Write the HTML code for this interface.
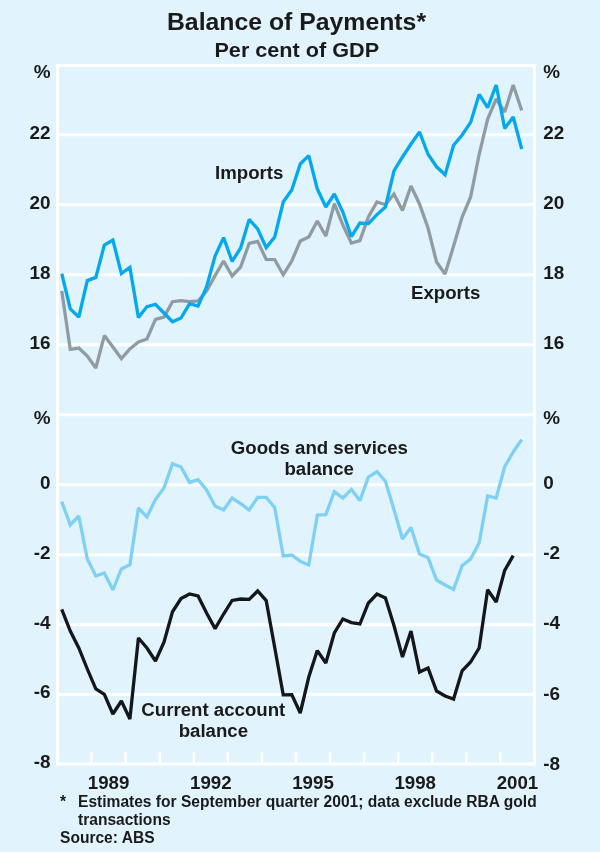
<!DOCTYPE html>
<html><head><meta charset="utf-8"><title>Balance of Payments</title>
<style>
html,body{margin:0;padding:0;background:#e1f3fd;}
body{width:600px;height:852px;overflow:hidden;position:relative;font-family:"Liberation Sans",Arial,sans-serif;font-weight:bold;color:#1a1a1a;}
svg{position:absolute;left:0;top:0;display:block;}
svg text{font-family:"Liberation Sans",Arial,sans-serif;font-weight:bold;fill:#1a1a1a;}
.t1{position:absolute;left:0;width:593px;top:7.5px;text-align:center;font-size:24.8px;line-height:28px;white-space:nowrap;}
.t2{position:absolute;left:0;width:593.5px;top:38px;text-align:center;transform:scaleX(1.055);transform-origin:50% 50%;font-size:20.5px;line-height:24px;white-space:nowrap;}
.fn{position:absolute;left:60px;font-size:15.57px;line-height:18px;white-space:nowrap;}
</style></head><body>
<svg width="600" height="852" viewBox="0 0 600 852">
<rect x="0" y="0" width="600" height="852" fill="#e1f3fd"/>
<g stroke="#ffffff" stroke-width="3" fill="none"><line x1="57.5" x2="534.5" y1="134.7" y2="134.7"/><line x1="57.5" x2="534.5" y1="204.7" y2="204.7"/><line x1="57.5" x2="534.5" y1="274.8" y2="274.8"/><line x1="57.5" x2="534.5" y1="344.8" y2="344.8"/><line x1="57.5" x2="534.5" y1="414.7" y2="414.7"/><line x1="57.5" x2="534.5" y1="484.7" y2="484.7"/><line x1="57.5" x2="534.5" y1="554.7" y2="554.7"/><line x1="57.5" x2="534.5" y1="624.7" y2="624.7"/><line x1="57.5" x2="534.5" y1="694.6" y2="694.6"/></g>
<g stroke="#ffffff" stroke-width="2.6" fill="none"><line x1="91.57" x2="91.57" y1="752" y2="764"/><line x1="125.64" x2="125.64" y1="752" y2="764"/><line x1="159.71" x2="159.71" y1="752" y2="764"/><line x1="193.78" x2="193.78" y1="752" y2="764"/><line x1="227.85" x2="227.85" y1="752" y2="764"/><line x1="261.92" x2="261.92" y1="752" y2="764"/><line x1="295.99" x2="295.99" y1="752" y2="764"/><line x1="330.06" x2="330.06" y1="752" y2="764"/><line x1="364.13" x2="364.13" y1="752" y2="764"/><line x1="398.20" x2="398.20" y1="752" y2="764"/><line x1="432.27" x2="432.27" y1="752" y2="764"/><line x1="466.34" x2="466.34" y1="752" y2="764"/><line x1="500.41" x2="500.41" y1="752" y2="764"/></g>
<g fill="none" stroke-linejoin="miter" stroke-miterlimit="2" stroke-linecap="butt">
<polyline stroke="#919ca2" stroke-width="3.3" points="61.76,291.00 70.28,349.40 78.80,348.00 87.31,356.00 95.83,368.00 104.35,335.60 112.87,347.00 121.39,358.60 129.90,349.00 138.42,342.00 146.94,339.00 155.46,319.40 163.98,317.00 172.49,301.70 181.01,300.60 189.53,301.60 198.05,301.00 206.57,291.00 215.08,275.60 223.60,261.00 232.12,276.00 240.64,267.00 249.16,243.40 257.67,241.40 266.19,259.40 274.71,259.60 283.23,274.80 291.75,261.00 300.26,241.00 308.78,237.00 317.30,221.00 325.82,236.00 334.34,203.60 342.85,225.00 351.37,243.00 359.89,240.60 368.41,217.00 376.93,202.00 385.44,204.70 393.96,194.00 402.48,210.40 411.00,186.00 419.52,204.00 428.03,228.00 436.55,262.00 445.07,274.00 453.59,246.00 462.11,217.00 470.62,197.00 479.14,154.50 487.66,119.00 496.18,99.00 504.70,112.00 513.21,85.00 521.73,110.60"/>
<polyline stroke="#04a8ee" stroke-width="3.3" points="61.76,273.60 70.28,309.00 78.80,317.00 87.31,280.60 95.83,277.40 104.35,245.00 112.87,240.00 121.39,273.60 129.90,267.40 138.42,317.60 146.94,306.60 155.46,304.40 163.98,313.00 172.49,321.70 181.01,318.00 189.53,303.60 198.05,306.00 206.57,287.00 215.08,256.00 223.60,237.60 232.12,261.40 240.64,248.00 249.16,219.40 257.67,229.00 266.19,247.60 274.71,237.00 283.23,202.00 291.75,190.00 300.26,164.00 308.78,155.60 317.30,189.00 325.82,207.00 334.34,194.00 342.85,212.00 351.37,236.60 359.89,223.00 368.41,223.60 376.93,214.60 385.44,207.00 393.96,171.00 402.48,157.00 411.00,144.00 419.52,132.00 428.03,154.30 436.55,166.80 445.07,174.80 453.59,145.20 462.11,135.00 470.62,122.40 479.14,94.40 487.66,107.60 496.18,85.00 504.70,128.40 513.21,117.00 521.73,149.00"/>
<polyline stroke="#7fd0f5" stroke-width="3.3" points="61.76,501.60 70.28,525.00 78.80,516.00 87.31,559.00 95.83,576.00 104.35,573.00 112.87,590.00 121.39,569.00 129.90,564.60 138.42,508.00 146.94,517.00 155.46,499.40 163.98,488.00 172.49,463.70 181.01,467.00 189.53,482.40 198.05,479.60 206.57,490.00 215.08,506.00 223.60,510.00 232.12,498.00 240.64,503.60 249.16,510.00 257.67,497.40 266.19,497.40 274.71,507.50 283.23,556.00 291.75,555.00 300.26,561.40 308.78,565.00 317.30,515.00 325.82,514.60 334.34,491.60 342.85,498.00 351.37,489.40 359.89,500.60 368.41,477.00 376.93,471.60 385.44,481.20 393.96,509.50 402.48,539.00 411.00,527.40 419.52,554.00 428.03,557.60 436.55,580.00 445.07,585.00 453.59,589.50 462.11,565.70 470.62,559.00 479.14,543.00 487.66,495.80 496.18,498.00 504.70,466.70 513.21,452.00 521.73,439.60"/>
<polyline stroke="#14161b" stroke-width="3.3" points="61.76,609.40 70.28,631.00 78.80,648.00 87.31,669.00 95.83,689.00 104.35,694.40 112.87,714.00 121.39,701.00 129.90,719.00 138.42,638.00 146.94,648.00 155.46,661.00 163.98,642.20 172.49,611.80 181.01,598.60 189.53,594.00 198.05,596.00 206.57,613.00 215.08,628.60 223.60,614.00 232.12,600.40 240.64,599.00 249.16,599.40 257.67,591.00 266.19,600.60 274.71,647.50 283.23,694.80 291.75,694.60 300.26,713.00 308.78,677.00 317.30,650.60 325.82,663.00 334.34,633.00 342.85,619.00 351.37,622.60 359.89,624.00 368.41,603.00 376.93,594.00 385.44,598.00 393.96,625.50 402.48,657.00 411.00,631.00 419.52,672.00 428.03,668.00 436.55,691.00 445.07,696.00 453.59,699.00 462.11,670.80 470.62,662.00 479.14,648.00 487.66,589.80 496.18,602.00 504.70,570.30 513.21,555.60"/>
</g>
<rect x="57.5" y="65.5" width="477" height="698.5" fill="none" stroke="#ffffff" stroke-width="3"/>
<g font-size="18.9"><text x="50.6" y="78.0" text-anchor="end">%</text><text x="50.6" y="139.4" text-anchor="end">22</text><text x="50.6" y="209.3" text-anchor="end">20</text><text x="50.6" y="279.2" text-anchor="end">18</text><text x="50.6" y="349.0" text-anchor="end">16</text><text x="50.6" y="488.8" text-anchor="end">0</text><text x="50.6" y="558.7" text-anchor="end">-2</text><text x="50.6" y="628.6" text-anchor="end">-4</text><text x="50.6" y="698.4" text-anchor="end">-6</text><text x="50.6" y="768.3" text-anchor="end">-8</text><text x="50.6" y="424.0" text-anchor="end">%</text><text x="543.3" y="78.0">%</text><text x="543.3" y="139.4">22</text><text x="543.3" y="209.3">20</text><text x="543.3" y="279.2">18</text><text x="543.3" y="349.0">16</text><text x="543.3" y="488.8">0</text><text x="543.3" y="558.7">-2</text><text x="543.3" y="628.6">-4</text><text x="543.3" y="699.8">-6</text><text x="543.3" y="769.5">-8</text><text x="543.3" y="424.0">%</text></g><g font-size="18.7"><text x="108.61" y="788.6" text-anchor="middle">1989</text><text x="210.81" y="788.6" text-anchor="middle">1992</text><text x="313.02" y="788.6" text-anchor="middle">1995</text><text x="415.24" y="788.6" text-anchor="middle">1998</text><text x="517.44" y="788.6" text-anchor="middle">2001</text></g>
<g font-size="18.65">
<text x="215" y="178.8">Imports</text>
<text x="411" y="299.3">Exports</text>
<text x="319.4" y="454" text-anchor="middle">Goods and services</text>
<text x="319.2" y="475.1" text-anchor="middle">balance</text>
<text x="213.3" y="715.6" text-anchor="middle">Current account</text>
<text x="213.4" y="737" text-anchor="middle">balance</text>
</g>
</svg>
<div class="t1">Balance of Payments*</div>
<div class="t2">Per cent of GDP</div>
<div class="fn" style="top:792.5px">*</div>
<div class="fn" style="top:792.5px;left:78px">Estimates for September quarter 2001; data exclude RBA gold</div>
<div class="fn" style="top:811px;left:78px">transactions</div>
<div class="fn" style="top:829px">Source: ABS</div>
</body></html>
